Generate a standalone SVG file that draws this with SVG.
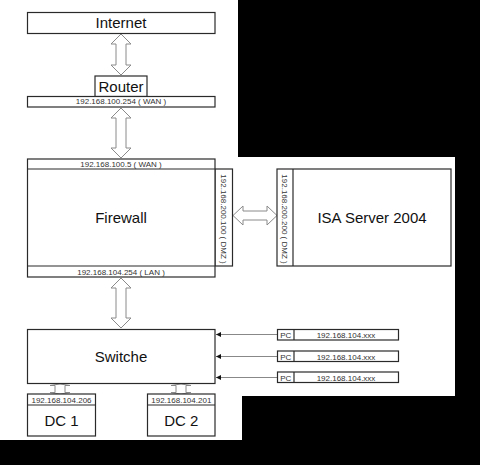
<svg xmlns="http://www.w3.org/2000/svg" width="480" height="465" viewBox="0 0 480 465">
<defs>
<style>
.box{fill:#fff;stroke:#2a2a2a;stroke-width:1.2}
.ln{fill:none;stroke:#2a2a2a;stroke-width:1.2}
.big{font-family:"Liberation Sans",Arial,sans-serif;font-size:15px;fill:#111;text-anchor:middle}
.sm{font-family:"Liberation Sans",Arial,sans-serif;font-size:8px;fill:#333;text-anchor:middle}
.arr{fill:#fff;stroke:#8a8a8a;stroke-width:1}
.wire{fill:none;stroke:#888;stroke-width:1}
</style>
<marker id="ah" viewBox="0 0 6 6" refX="6" refY="3" markerWidth="5" markerHeight="5" markerUnits="userSpaceOnUse" orient="auto">
<path d="M0,0 L6,3 L0,6 z" fill="#111"/>
</marker>
</defs>
<rect x="0" y="0" width="480" height="465" fill="#000"/>
<polygon points="0,0 238,0 238,157 455,157 455,396 242,396 242,440 0,440" fill="#fff"/>

<g id="connectors">
<polygon class="arr" points="121,34 131,44 126,44 126,65 131,65 121,75 111,65 116,65 116,44 111,44"/>
<polygon class="arr" points="121,108 131,118 126,118 126,148 131,148 121,158 111,148 116,148 116,118 111,118"/>
<polygon class="arr" points="121,278 131,288 126,288 126,318 131,318 121,328 111,318 116,318 116,288 111,288"/>
<polygon class="arr" points="233,215.5 243,206 243,211 267,211 267,206 277,215.5 267,225 267,220 243,220 243,225"/>
<polygon class="arr" points="60,384 70,385.5 65,385.5 65,392.5 70,392.5 60,394 50,392.5 55,392.5 55,385.5 50,385.5"/>
<polygon class="arr" points="181,384 191,385.5 186,385.5 186,392.5 191,392.5 181,394 171,392.5 176,392.5 176,385.5 171,385.5"/>
<line class="wire" x1="277" y1="334.5" x2="216" y2="334.5" marker-end="url(#ah)"/>
<line class="wire" x1="277" y1="356.5" x2="216" y2="356.5" marker-end="url(#ah)"/>
<line class="wire" x1="277" y1="377.5" x2="216" y2="377.5" marker-end="url(#ah)"/>
</g>

<g id="internet">
<rect class="box" x="27.5" y="12.5" width="187.5" height="21"/>
<text class="big" x="121" y="28">Internet</text>
</g>

<g id="router">
<rect class="box" x="95" y="76" width="52" height="20.5"/>
<text class="big" x="121" y="91.5">Router</text>
<rect class="box" x="27.5" y="96.5" width="187.5" height="10.5"/>
<text class="sm" x="121" y="104.4">192.168.100.254 ( WAN )</text>
</g>

<g id="firewall">
<rect class="box" x="215" y="169" width="17.5" height="97"/>
<rect class="box" x="27.5" y="159" width="187.5" height="118"/>
<line class="ln" x1="27.5" y1="169" x2="215" y2="169"/>
<line class="ln" x1="27.5" y1="266" x2="215" y2="266"/>
<text class="sm" x="121" y="167">192.168.100.5 ( WAN )</text>
<text class="big" x="121" y="223">Firewall</text>
<text class="sm" x="121" y="274.5">192.168.104.254 ( LAN )</text>
<text class="sm" transform="translate(223.7,219) rotate(90)" y="3">192.168.200.100 ( DMZ )</text>
</g>

<g id="isa">
<rect class="box" x="277" y="169" width="174" height="97"/>
<line class="ln" x1="293" y1="169" x2="293" y2="266"/>
<text class="sm" transform="translate(285,219) rotate(90)" y="3">192.168.200.200 ( DMZ )</text>
<text class="big" x="372" y="223">ISA Server 2004</text>
</g>

<g id="switch">
<rect class="box" x="27.5" y="329.5" width="187.5" height="54"/>
<text class="big" x="121" y="361.5">Switche</text>
</g>

<g id="dc1">
<rect class="box" x="27.5" y="394" width="68" height="42"/>
<line class="ln" x1="27.5" y1="405" x2="95.5" y2="405"/>
<text class="sm" x="61.5" y="402.6">192.168.104.206</text>
<text class="big" x="61.5" y="426">DC 1</text>
</g>

<g id="dc2">
<rect class="box" x="147.5" y="394" width="67.5" height="42"/>
<line class="ln" x1="147.5" y1="405" x2="215" y2="405"/>
<text class="sm" x="181.3" y="402.6">192.168.104.201</text>
<text class="big" x="181.3" y="426">DC 2</text>
</g>

<g id="pc1">
<rect class="box" x="277.5" y="329.5" width="121" height="10.5"/>
<line class="ln" x1="294" y1="329.5" x2="294" y2="340"/>
<text class="sm" x="285.7" y="337.5">PC</text>
<text class="sm" x="346" y="337.5">192.168.104.xxx</text>
</g>

<g id="pc2">
<rect class="box" x="277.5" y="351" width="121" height="10.5"/>
<line class="ln" x1="294" y1="351" x2="294" y2="361.5"/>
<text class="sm" x="285.7" y="359.5">PC</text>
<text class="sm" x="346" y="359.5">192.168.104.xxx</text>
</g>

<g id="pc3">
<rect class="box" x="277.5" y="372" width="121" height="10.5"/>
<line class="ln" x1="294" y1="372" x2="294" y2="382.5"/>
<text class="sm" x="285.7" y="380.5">PC</text>
<text class="sm" x="346" y="380.5">192.168.104.xxx</text>
</g>
</svg>
